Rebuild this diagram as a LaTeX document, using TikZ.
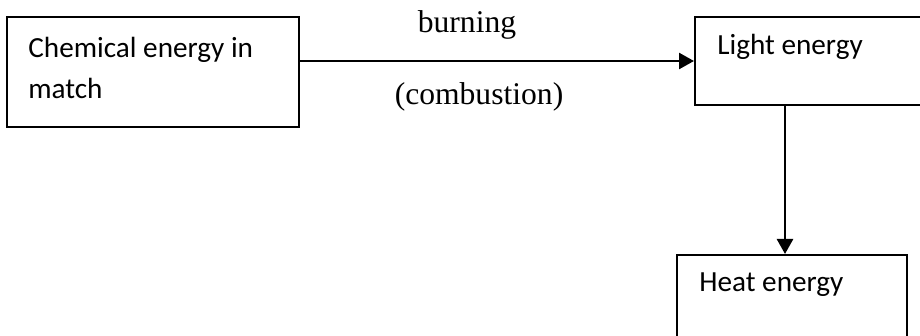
\documentclass[tikz,border=0pt]{standalone}
\usepackage{fontspec}
\setmainfont{Liberation Serif}
\newfontfamily\calib{Carlito}
\usetikzlibrary{arrows.meta}
\begin{document}
\begin{tikzpicture}[x=0.5pt,y=-0.5pt,
  box/.style={draw,line width=1pt,inner sep=0pt},
  lbl/.style={font=\calib\fontsize{14.6}{20.5}\selectfont,anchor=west,inner sep=0pt,align=left},
  ser/.style={font=\fontsize{15.8}{19}\selectfont,inner sep=0pt},
  conn/.style={line width=1.3pt,-{Triangle[length=7.5pt,width=8pt]}}]
\useasboundingbox (0,0) rectangle (920,336);
\clip (0,0) rectangle (920,336);
\node[box,minimum width=146pt,minimum height=55pt] (chem) at (153,72) {};
\node[box,minimum width=120pt,minimum height=44pt] (light) at (815,61) {};
\node[box,minimum width=115pt,minimum height=60pt] (heat) at (792,315) {};
\node[lbl] (t1) at (28,67.5) {Chemical energy in\\match};
\node[lbl] (t2) at (717,47) {Light energy};
\node[lbl] (t3) at (699,285) {Heat energy};
\node[ser] (burn) at (467,25) {burning};
\node[ser] (comb) at (479,97) {(combustion)};
\draw[conn] (chem.east |- 0,61) -- (light.west |- 0,61);
\draw[conn] (light.south -| 785,0) -- (heat.north -| 785,0);
\end{tikzpicture}
\end{document}
